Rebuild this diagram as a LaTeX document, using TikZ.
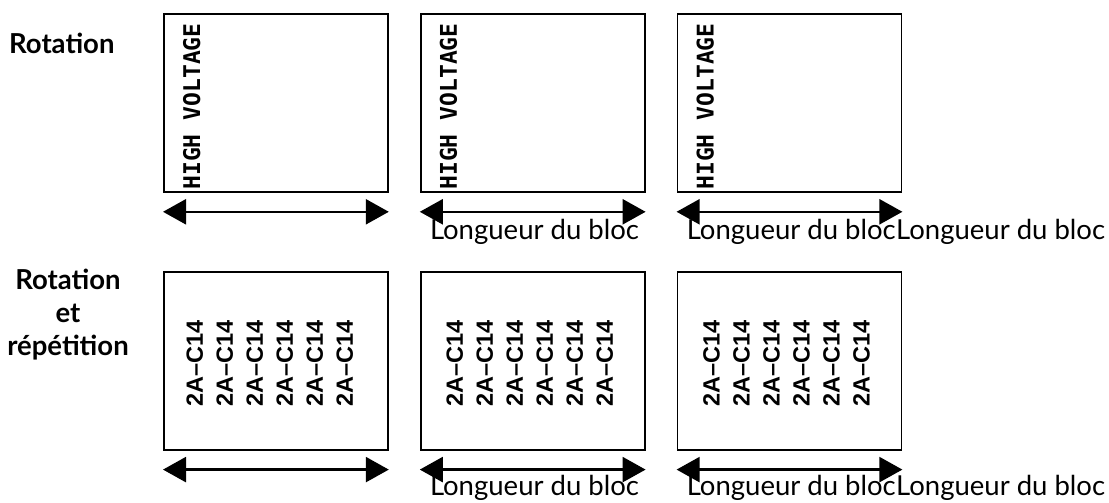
\documentclass[tikz,border=0pt]{standalone}
\usepackage{fontspec}
\setmainfont{Lato}
\newfontfamily\tapemono{DejaVu Sans Mono}
\newfontfamily\tapesans{Liberation Sans}
\usetikzlibrary{arrows.meta,positioning}

\begin{document}
\begin{tikzpicture}[x=1pt, y=-1pt,
  tape/.style={draw, line width=1.8pt, minimum width=224pt, minimum height=178pt, inner sep=0pt},
  dim/.style={{Triangle[length=23pt,width=25pt]}-{Triangle[length=23pt,width=25pt]}, line width=2.4pt},
  rowtitle/.style={font=\fontsize{27.5}{33}\selectfont\bfseries, align=center, inner sep=0pt},
  lenlabel/.style={font=\fontsize{27.5}{33}\selectfont, inner sep=0pt, anchor=base west},
  hv/.style={font=\tapemono\bfseries\fontsize{23}{28}\selectfont, rotate=90, inner sep=0pt, anchor=base west},
  code/.style={font=\tapesans\bfseries\fontsize{23.5}{30}\selectfont, rotate=90, inner sep=0pt, align=center}
]
\useasboundingbox (0,0) rectangle (1109,503);

% row titles
\node[rowtitle, anchor=base west] (t1) at (9,54) {Rotation};
\node[rowtitle] (t2) at (68,315) {Rotation\\et\\répétition};

% top row
\node[tape, anchor=north west] (b1) at (163,13) {};
\node[tape, right=31pt of b1] (b2) {};
\node[tape, right=31pt of b2] (b3) {};

\node[hv] (h1) at ([xshift=37pt, yshift=3pt]b1.south west) {HIGH VOLTAGE};
\node[hv] (h2) at ([xshift=37pt, yshift=3pt]b2.south west) {HIGH VOLTAGE};
\node[hv] (h3) at ([xshift=37pt, yshift=3pt]b3.south west) {HIGH VOLTAGE};

\draw[dim] ([yshift=-19pt]b1.south west) -- ([yshift=-19pt]b1.south east);
\draw[dim] ([yshift=-19pt]b2.south west) -- ([yshift=-19pt]b2.south east);
\draw[dim] ([yshift=-19pt]b3.south west) -- ([yshift=-19pt]b3.south east);

\node[lenlabel] (l2) at ([xshift=10pt, yshift=-47pt]b2.south west) {Longueur du bloc};
\node[lenlabel] (l3) at ([xshift=10pt, yshift=-47pt]b3.south west) {Longueur du bloc};
\node[lenlabel] (l3x) at (l3.base east) {Longueur du bloc};

% bottom row
\node[tape, below=78pt of b1] (c1) {};
\node[tape, right=31pt of c1] (c2) {};
\node[tape, right=31pt of c2] (c3) {};

\node[code] (r1) at ([xshift=-6pt, yshift=-3pt]c1.center) {2A–C14\\2A–C14\\2A–C14\\2A–C14\\2A–C14\\2A–C14};
\node[code] (r2) at ([xshift=-3pt, yshift=-3pt]c2.center) {2A–C14\\2A–C14\\2A–C14\\2A–C14\\2A–C14\\2A–C14};
\node[code] (r3) at ([xshift=-3pt, yshift=-3pt]c3.center) {2A–C14\\2A–C14\\2A–C14\\2A–C14\\2A–C14\\2A–C14};

\draw[dim] ([yshift=-19pt]c1.south west) -- ([yshift=-19pt]c1.south east);
\draw[dim] ([yshift=-19pt]c2.south west) -- ([yshift=-19pt]c2.south east);
\draw[dim] ([yshift=-19pt]c3.south west) -- ([yshift=-19pt]c3.south east);

\node[lenlabel] (m2) at ([xshift=10pt, yshift=-45pt]c2.south west) {Longueur du bloc};
\node[lenlabel] (m3) at ([xshift=10pt, yshift=-45pt]c3.south west) {Longueur du bloc};
\node[lenlabel] (m3x) at (m3.base east) {Longueur du bloc};
\end{tikzpicture}
\end{document}
